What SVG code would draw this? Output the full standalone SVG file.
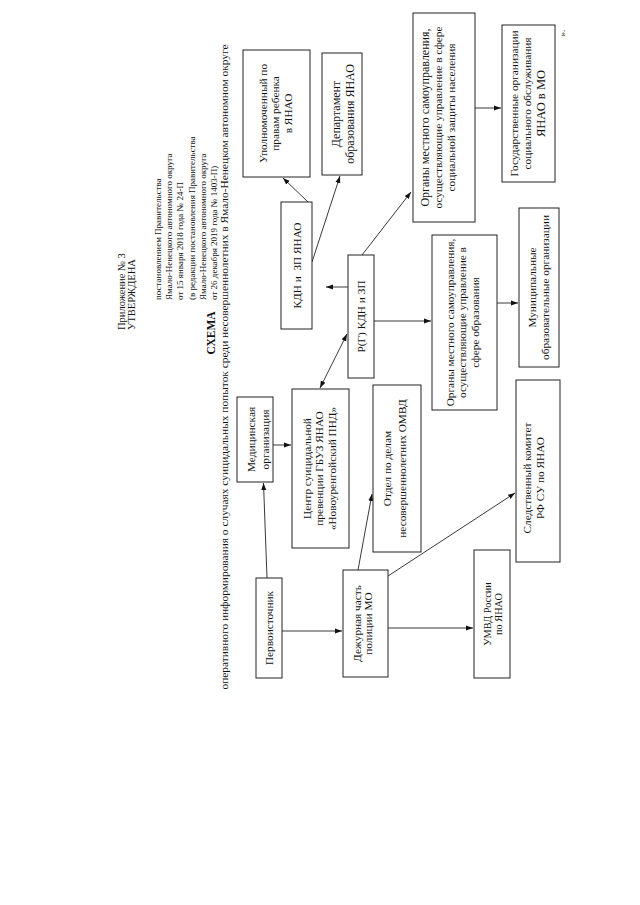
<svg xmlns="http://www.w3.org/2000/svg" width="640" height="905" viewBox="0 0 640 905">
<style>
text{font-family:"Liberation Serif","Times New Roman",serif;fill:#111;}
.t{font-size:11.3px;text-anchor:middle;}
.h{font-size:9px;text-anchor:start;}
.b{fill:#fff;stroke:#222;stroke-width:1;}
.c{fill:none;stroke:#222;stroke-width:0.9;}
</style>
<defs>
<marker id="a" markerWidth="8" markerHeight="6" refX="7" refY="3" orient="auto" markerUnits="userSpaceOnUse"><path d="M0,0.5 L7,3 L0,5.5 z" fill="#111"/></marker>
<marker id="s" markerWidth="8" markerHeight="6" refX="1" refY="3" orient="auto" markerUnits="userSpaceOnUse"><path d="M8,0.5 L1,3 L8,5.5 z" fill="#111"/></marker>
</defs>
<rect width="640" height="905" fill="#fff"/>

<g id="header">
<text class="h" transform="translate(124.5,330) rotate(-90)" style="font-size:10.5px">Приложение № 3</text>
<text class="h" transform="translate(134.5,330) rotate(-90)" style="font-size:10.5px">УТВЕРЖДЕНА</text>
<text class="h" transform="translate(161,300) rotate(-90)">постановлением Правительства</text>
<text class="h" transform="translate(172,300) rotate(-90)">Ямало-Ненецкого автономного округа</text>
<text class="h" transform="translate(183,300) rotate(-90)">от 15 января 2018 года № 24-П</text>
<text class="h" transform="translate(195,300) rotate(-90)">(в редакции постановления Правительства</text>
<text class="h" transform="translate(206,300) rotate(-90)">Ямало-Ненецкого автономного округа</text>
<text class="h" transform="translate(217,300) rotate(-90)">от 26 декабря 2019 года № 1403-П)</text>
<text transform="translate(214.5,333) rotate(-90)" style="font-size:11.5px;font-weight:bold;text-anchor:middle">СХЕМА</text>
<text transform="translate(227.5,367) rotate(-90)" style="font-size:11px;text-anchor:middle" textLength="645" lengthAdjust="spacingAndGlyphs">оперативного информирования о случаях суицидальных попыток среди несовершеннолетних в Ямало-Ненецком автономном округе</text>
<text transform="translate(565,33) rotate(-90)" style="font-size:9px;text-anchor:middle">».</text>
</g>

<g id="connectors">
<line class="c" x1="267" y1="578" x2="263.5" y2="483" marker-end="url(#a)"/>
<line class="c" x1="282" y1="631" x2="342" y2="631" marker-end="url(#a)"/>
<line class="c" x1="273" y1="445" x2="291" y2="445" marker-end="url(#a)"/>
<line class="c" x1="320" y1="388" x2="347" y2="334" marker-start="url(#s)" marker-end="url(#a)"/>
<line class="c" x1="348" y1="287" x2="326" y2="287" marker-end="url(#a)"/>
<line class="c" x1="308" y1="202" x2="283" y2="178" marker-end="url(#a)"/>
<line class="c" x1="312" y1="262" x2="340" y2="176" marker-end="url(#a)"/>
<line class="c" x1="362" y1="255" x2="411" y2="192" marker-end="url(#a)"/>
<line class="c" x1="374" y1="321" x2="431" y2="321" marker-end="url(#a)"/>
<line class="c" x1="497" y1="303" x2="518" y2="303" marker-end="url(#a)"/>
<line class="c" x1="475" y1="108" x2="501" y2="108" marker-end="url(#a)"/>
<line class="c" x1="358" y1="570" x2="372" y2="494" marker-end="url(#a)"/>
<line class="c" x1="388" y1="576" x2="515" y2="493" marker-end="url(#a)"/>
<line class="c" x1="388" y1="628" x2="473" y2="628" marker-end="url(#a)"/>
</g>

<g id="upolnomochenny">
<rect class="b" x="243" y="50" width="67" height="127"/>
<text class="t" transform="translate(266.5,113.5) rotate(-90)">Уполномоченный по<tspan x="0" dy="12.7">правам ребенка</tspan><tspan x="0" dy="12.7">в ЯНАО</tspan></text>
</g>
<g id="departament">
<rect class="b" x="322" y="53" width="40" height="122"/>
<text class="t" transform="translate(340,114) rotate(-90)" style="font-size:12px">Департамент<tspan x="0" dy="13.5">образования ЯНАО</tspan></text>
</g>
<g id="organy-szn">
<rect class="b" x="413" y="13" width="62" height="209"/>
<text class="t" transform="translate(428.5,117.5) rotate(-90)"><tspan style="font-size:12px">Органы местного самоуправления,</tspan><tspan x="0" dy="13">осуществляющие управление в сфере</tspan><tspan x="0" dy="13.5">социальной защиты населения</tspan></text>
</g>
<g id="gos-org">
<rect class="b" x="502" y="25" width="53" height="157"/>
<text class="t" transform="translate(517.5,103.5) rotate(-90)">Государственные организации<tspan x="0" dy="13">социального обслуживания</tspan><tspan x="0" dy="14.5" style="font-size:12.5px">ЯНАО в МО</tspan></text>
</g>
<g id="med-org">
<rect class="b" x="237" y="397" width="36" height="85"/>
<text class="t" transform="translate(254.5,439.5) rotate(-90)">Медицинская<tspan x="0" dy="14">организация</tspan></text>
</g>
<g id="centr">
<rect class="b" x="292" y="389" width="57" height="159"/>
<text class="t" transform="translate(310.5,468.5) rotate(-90)">Центр суицидальной<tspan x="0" dy="12.5">превенции ГБУЗ ЯНАО</tspan><tspan x="0" dy="12.5">«Новоуренгойский ПНД»</tspan></text>
</g>
<g id="otdel">
<rect class="b" x="373" y="385" width="48" height="167"/>
<text class="t" transform="translate(390.5,468.5) rotate(-90)">Отдел по делам<tspan x="0" dy="15">несовершеннолетних ОМВД</tspan></text>
</g>
<g id="kdn">
<rect class="b" x="281" y="202" width="31" height="127"/>
<text class="t" xml:space="preserve" transform="translate(300.5,265.5) rotate(-90)">КДН и  ЗП ЯНАО</text>
</g>
<g id="rg-kdn">
<rect class="b" x="348" y="255" width="26" height="123"/>
<text class="t" transform="translate(365,316.5) rotate(-90)">Р(Г) КДН и ЗП</text>
</g>
<g id="organy-obr">
<rect class="b" x="432" y="235" width="65" height="175"/>
<text class="t" transform="translate(453.5,322.5) rotate(-90)">Органы местного самоуправления,<tspan x="0" dy="12.7">осуществляющие управление в</tspan><tspan x="0" dy="12.7">сфере образования</tspan></text>
</g>
<g id="municipal">
<rect class="b" x="519" y="208" width="40" height="159"/>
<text class="t" transform="translate(535.5,287.5) rotate(-90)">Муниципальные<tspan x="0" dy="13">образовательные организации</tspan></text>
</g>
<g id="sk">
<rect class="b" x="516" y="380" width="44" height="182"/>
<text class="t" transform="translate(530.5,478) rotate(-90)">Следственный комитет<tspan x="0" dy="13">РФ СУ по ЯНАО</tspan></text>
</g>
<g id="umvd">
<rect class="b" x="474" y="550" width="36" height="128"/>
<text class="t" transform="translate(490.5,614) rotate(-90)" style="font-size:10.3px">УМВД России<tspan x="0" dy="11.5">по ЯНАО</tspan></text>
</g>
<g id="dezhurnaya">
<rect class="b" x="343" y="570" width="45" height="107"/>
<text class="t" transform="translate(360.5,623.5) rotate(-90)">Дежурная часть<tspan x="0" dy="11.5">полиции МО</tspan></text>
</g>
<g id="pervoistochnik">
<rect class="b" x="256" y="578" width="26" height="100"/>
<text class="t" transform="translate(272.5,628) rotate(-90)">Первоисточник</text>
</g>
</svg>
